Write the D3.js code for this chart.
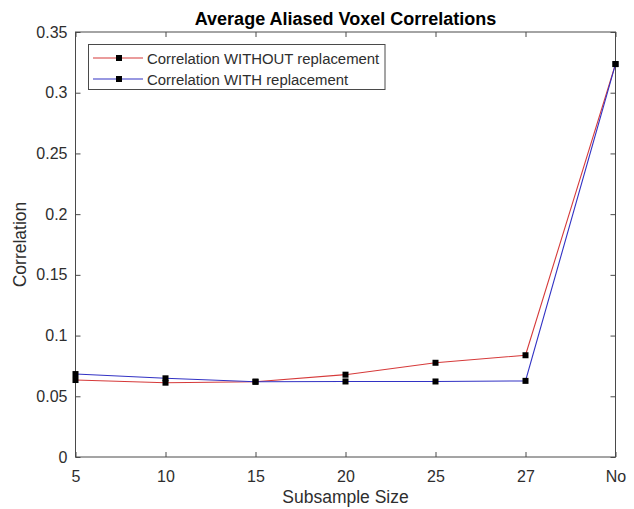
<!DOCTYPE html>
<html>
<head>
<meta charset="utf-8">
<script src="https://cdn.jsdelivr.net/npm/d3@7"></script>
<style>
  html, body { margin: 0; padding: 0; background: #fff; }
  svg { display: block; font-family: "Liberation Sans", Arial, Helvetica, sans-serif; }
</style>
</head>
<body>
<svg id="chart" width="634" height="509"></svg>
<script>
// ---- data ----
const categories = ["5", "10", "15", "20", "25", "27", "No"];
const withoutReplacement = [0.0634, 0.0612, 0.0620, 0.0678, 0.0776, 0.0838, 0.3236];
const withReplacement = [0.0683, 0.0648, 0.0620, 0.0622, 0.0622, 0.0627, 0.3236];
const yTickValues = [0, 0.05, 0.1, 0.15, 0.2, 0.25, 0.3, 0.35];
const yTickLabels = ["0", "0.05", "0.1", "0.15", "0.2", "0.25", "0.3", "0.35"];
const seriesNames = ["Correlation WITHOUT replacement", "Correlation WITH replacement"];
const seriesColors = ["#d63a3a", "#3232c4"];

// ---- layout ----
const svg = d3.select("#chart");
const plotLeft = 75.5, plotRight = 615.5, plotTop = 32, plotBottom = 457;
const axisColor = "#4a4a4a";
const textColor = "#2e2e2e";

const x = d3.scalePoint().domain(categories).range([plotLeft, plotRight]).padding(0);
const y = d3.scaleLinear().domain([0, 0.35]).range([plotBottom, plotTop]);

// box
svg.append("rect")
  .attr("x", plotLeft).attr("y", plotTop)
  .attr("width", plotRight - plotLeft).attr("height", plotBottom - plotTop)
  .attr("fill", "none").attr("stroke", axisColor).attr("stroke-width", 1);

function styleAxis(g, showLabels) {
  g.select(".domain").remove();
  g.selectAll(".tick line").attr("stroke", axisColor);
  g.selectAll(".tick text")
    .attr("fill", textColor)
    .style("font-size", "16px")
    .style("font-family", '"Liberation Sans", Arial, Helvetica, sans-serif');
  if (!showLabels) g.selectAll(".tick text").remove();
}

// bottom axis (ticks inward)
svg.append("g").attr("transform", `translate(0,${plotBottom})`)
  .call(d3.axisBottom(x).tickSizeInner(-5).tickSizeOuter(0).tickPadding(14))
  .call(g => styleAxis(g, true));
// top axis ticks
svg.append("g").attr("transform", `translate(0,${plotTop})`)
  .call(d3.axisTop(x).tickSizeInner(-5).tickSizeOuter(0))
  .call(g => styleAxis(g, false));
// left axis
svg.append("g").attr("transform", `translate(${plotLeft},0)`)
  .call(d3.axisLeft(y).tickValues(yTickValues)
    .tickFormat((d, i) => yTickLabels[i]).tickSizeInner(-5).tickSizeOuter(0).tickPadding(8))
  .call(g => styleAxis(g, true));
// right axis ticks
svg.append("g").attr("transform", `translate(${plotRight},0)`)
  .call(d3.axisRight(y).tickValues(yTickValues).tickSizeInner(-5).tickSizeOuter(0))
  .call(g => styleAxis(g, false));

// lines
const line = d3.line().x((d, i) => x(categories[i])).y(d => y(d));
const allSeries = [withoutReplacement, withReplacement];
allSeries.forEach((vals, s) => {
  svg.append("path").datum(vals)
    .attr("d", line)
    .attr("fill", "none")
    .attr("stroke", seriesColors[s])
    .attr("stroke-width", 1.1);
});
allSeries.forEach((vals) => {
  svg.append("g").selectAll("rect").data(vals).join("rect")
    .attr("x", (d, i) => x(categories[i]) - 3)
    .attr("y", d => y(d) - 3)
    .attr("width", 6).attr("height", 6)
    .attr("fill", "#000");
});

// title
svg.append("text")
  .attr("x", (plotLeft + plotRight) / 2).attr("y", 25)
  .attr("text-anchor", "middle")
  .attr("fill", "#000")
  .style("font-size", "18px").style("font-weight", "bold")
  .text("Average Aliased Voxel Correlations");

// axis labels
svg.append("text")
  .attr("x", (plotLeft + plotRight) / 2).attr("y", 503)
  .attr("text-anchor", "middle").attr("fill", textColor)
  .style("font-size", "17.5px")
  .text("Subsample Size");
svg.append("text")
  .attr("transform", `translate(26,${(plotTop + plotBottom) / 2}) rotate(-90)`)
  .attr("text-anchor", "middle").attr("fill", textColor)
  .style("font-size", "17.5px")
  .text("Correlation");

// legend
const lg = svg.append("g");
lg.append("rect")
  .attr("x", 88.5).attr("y", 44.5).attr("width", 296.5).attr("height", 45)
  .attr("fill", "#fff").attr("stroke", axisColor).attr("stroke-width", 1);
seriesNames.forEach((name, s) => {
  const yy = 58 + s * 21;
  lg.append("line").attr("x1", 93).attr("x2", 143).attr("y1", yy).attr("y2", yy)
    .attr("stroke", seriesColors[s]).attr("stroke-width", 1.1);
  lg.append("rect").attr("x", 116).attr("y", yy - 3).attr("width", 6).attr("height", 6).attr("fill", "#000");
  lg.append("text").attr("x", 147).attr("y", yy + 5.5)
    .attr("fill", textColor).style("font-size", "14.9px").text(name);
});
</script>
</body>
</html>
